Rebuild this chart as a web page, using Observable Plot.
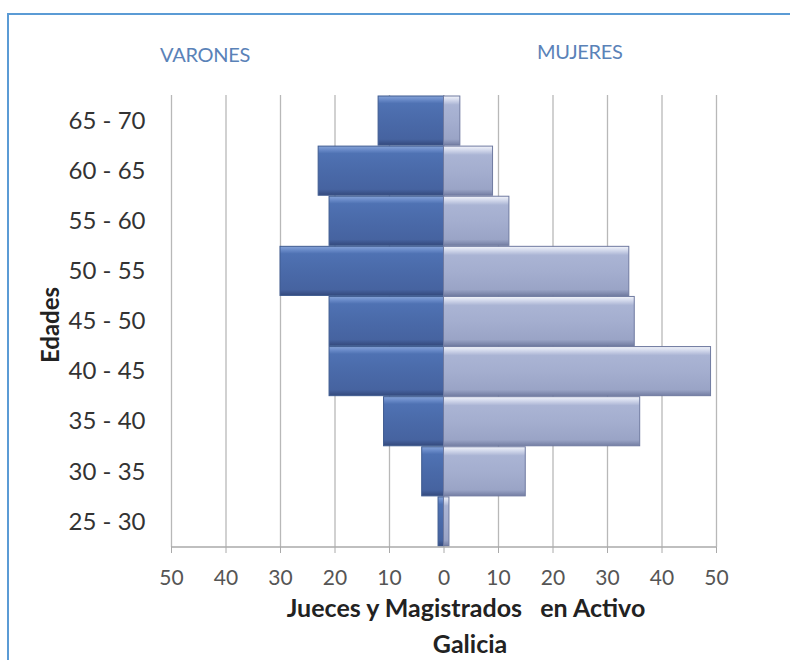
<!DOCTYPE html>
<html>
<head>
<meta charset="utf-8">
<script src="https://cdn.jsdelivr.net/npm/d3@7"></script>
<script src="https://cdn.jsdelivr.net/npm/@observablehq/plot@0.6"></script>
<style>
  html, body { margin: 0; padding: 0; background: #fff; }
  #wrap { position: relative; width: 790px; height: 660px; overflow: hidden; font-family: Lato, "Open Sans", sans-serif; }
  #border { position: absolute; left: 7px; top: 13px; right: -5px; bottom: -5px; border-top: 2px solid #5b9bd5; border-left: 2px solid #5b9bd5; }
  .hdr { position: absolute; font-size: 20px; color: #5a82b8; letter-spacing: -0.3px; }
  .ttl { position: absolute; font-weight: bold; font-size: 25px; color: #222; white-space: pre; transform: translateX(-50%); }
  #ylab { position: absolute; font-weight: bold; font-size: 24px; color: #222; transform: translate(-50%,-50%) rotate(-90deg); }
  svg { position: absolute; left: 0; top: 0; }
</style>
</head>
<body>
<div id="wrap">
  <div id="border"></div>
  <div class="hdr" style="left:160px; top:42px;">VARONES</div>
  <div class="hdr" style="left:537px; top:39px;">MUJERES</div>
  <div class="ttl" style="left:466px; top:592px;">Jueces y Magistrados   en Activo</div>
  <div class="ttl" style="left:470px; top:628px;">Galicia</div>
  <div id="ylab" style="left:49px; top:325px;">Edades</div>
</div>
<script>
const ages = ["25 - 30","30 - 35","35 - 40","40 - 45","45 - 50","50 - 55","55 - 60","60 - 65","65 - 70"];
const varones = [1, 4, 11, 21, 21, 30, 21, 23, 12];
const mujeres = [1, 15, 36, 49, 35, 34, 12, 9, 3];
const xTicks = [-50, -40, -30, -20, -10, 0, 10, 20, 30, 40, 50];

const rows = ages.flatMap((a, i) => [
  {age: a, sexo: "Varones", value: -varones[i]},
  {age: a, sexo: "Mujeres", value: mujeres[i]}
]);

const chart = Plot.plot({
  width: 790,
  height: 660,
  marginLeft: 171,
  marginRight: 74,
  marginTop: 95,
  marginBottom: 113,
  style: {background: "transparent", fontFamily: "Lato, 'Open Sans', sans-serif"},
  x: {domain: [-50, 50], ticks: xTicks, tickFormat: d => Math.abs(d), label: null},
  y: {domain: ages.slice().reverse(), padding: 0.02, round: false, label: null},
  marks: [
    Plot.gridX(xTicks, {stroke: "#b8b8b8", strokeOpacity: 1, strokeWidth: 1.3}),
    Plot.barX(rows.filter(d => d.sexo === "Varones"), {x: "value", y: "age", fill: "url(#gVar)", stroke: "#3f5b90", strokeWidth: 1}),
    Plot.barX(rows.filter(d => d.sexo === "Mujeres"), {x: "value", y: "age", fill: "url(#gMuj)", stroke: "#6f7aa0", strokeWidth: 1}),
    Plot.axisX(xTicks, {tickSize: 6, tickPadding: 17, fontSize: 21, color: "#555", stroke: "#aaa", tickFormat: d => Math.abs(d)}),
    Plot.axisY({tickSize: 0, tickPadding: 26, fontSize: 24, color: "#333"})
  ]
});

const svg = d3.select(chart);
const defs = svg.insert("defs", ":first-child");
function grad(id, stops) {
  const g = defs.append("linearGradient").attr("id", id).attr("x1", 0).attr("y1", 0).attr("x2", 0).attr("y2", 1);
  stops.forEach(([o, c]) => g.append("stop").attr("offset", o).attr("stop-color", c));
}
grad("gVar", [[0, "#86a3d6"], [0.07, "#6b8cca"], [0.15, "#4f72b3"], [0.5, "#4a6aa9"], [0.88, "#4663a0"], [1, "#34497c"]]);
grad("gMuj", [[0, "#f2f4fa"], [0.08, "#d3d9ec"], [0.18, "#aab4d4"], [0.5, "#a4aecf"], [0.88, "#9aa4c6"], [1, "#747ea3"]]);

const xs = chart.scale("x");
const yr = chart.scale("y").range;
svg.append("line")
  .attr("x1", xs.apply(-50)).attr("x2", xs.apply(50))
  .attr("y1", Math.max(...yr)).attr("y2", Math.max(...yr))
  .attr("stroke", "#aaa").attr("stroke-width", 1.3);

document.getElementById("wrap").appendChild(chart);
</script>
</body>
</html>
